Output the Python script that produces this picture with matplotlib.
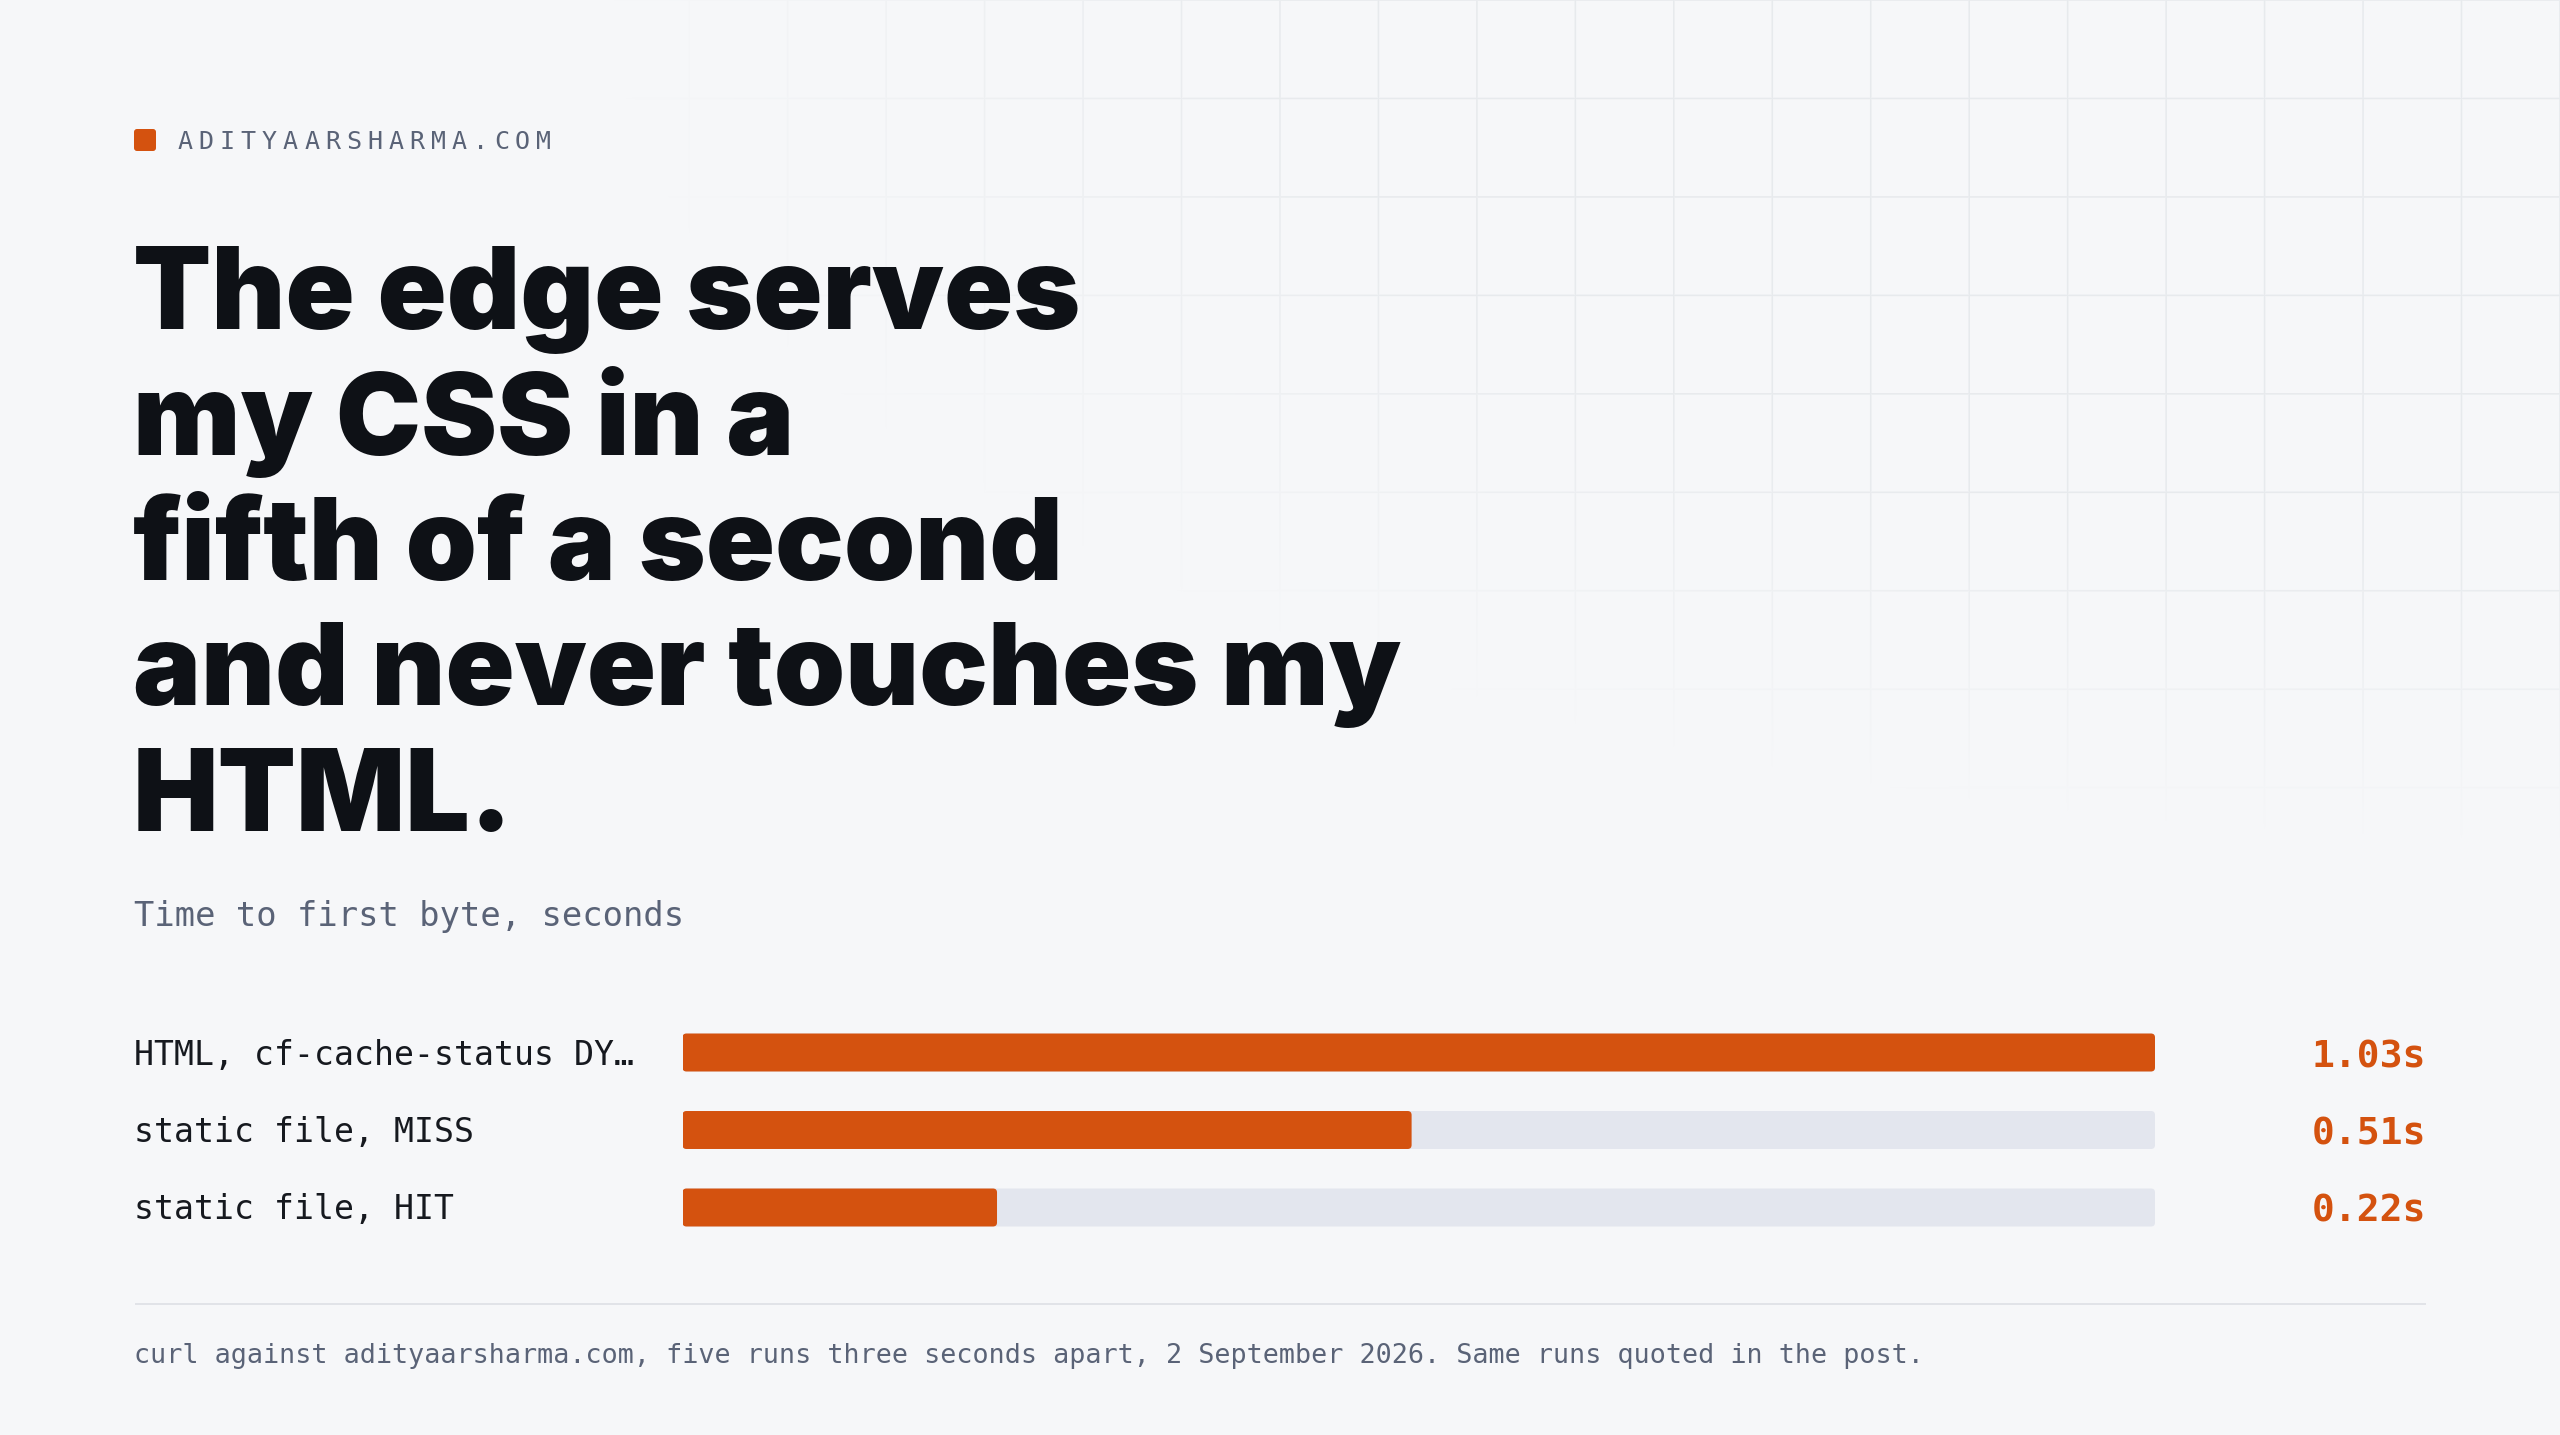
import numpy as np
import matplotlib
matplotlib.use("Agg")
import matplotlib.pyplot as plt
from matplotlib import font_manager, transforms
from matplotlib.patches import FancyBboxPatch

W, H, DPI = 2560, 1435, 100

brand = "ADITYAARSHARMA.COM"
title_lines = ["The edge serves", "my CSS in a", "fifth of a second",
               "and never touches my", "HTML."]
subtitle = "Time to first byte, seconds"
labels = ["HTML, cf-cache-status DY…", "static file, MISS", "static file, HIT"]
ttfb = [1.03, 0.51, 0.22]
value_labels = ["1.03s", "0.51s", "0.22s"]
footnote = ("curl against adityaarsharma.com, five runs three seconds apart, "
            "2 September 2026. Same runs quoted in the post.")

BG = "#f6f7f9"
INK = "#0e1116"
MUTED = "#5a6377"
ORANGE = "#d4520f"
TRACK = "#e3e6ee"
RULE = "#e1e3e8"
GRIDC = (0.905, 0.914, 0.929)


def pt(p):
    # pixels -> points
    return p * 72 / DPI


def wnum(f):
    try:
        return int(f.weight)
    except ValueError:
        return {"bold": 700, "black": 900, "heavy": 900}.get(str(f.weight), 400)


def heaviest(family):
    c = [f for f in font_manager.fontManager.ttflist
         if f.name == family and f.style == "normal" and "[" not in f.fname]
    if not c:
        return None
    return max(c, key=wnum)


title_fp = None
for fam in ["Inter", "Roboto", "Lato", "DejaVu Sans"]:
    f = heaviest(fam)
    if f is not None:
        title_fp = font_manager.FontProperties(fname=f.fname)
        break

mono = "DejaVu Sans Mono"

fig = plt.figure(figsize=(W / DPI, H / DPI), dpi=DPI, facecolor=BG)
ax = fig.add_axes([0, 0, 1, 1])
ax.set_facecolor(BG)

# faint grid in the top right, fading out
step = 98.46
xs = np.arange(W) + 0.5
ys = np.arange(H) + 0.5
dx = np.abs(((xs + step / 2) % step) - step / 2)
dy = np.abs(((ys + step / 2) % step) - step / 2)
lx = np.clip(1.3 - dx, 0, 1)
ly = np.clip(1.3 - dy, 0, 1)
lines = np.maximum(lx[None, :], ly[:, None])
r = np.sqrt(((W - xs[None, :]) / 1950) ** 2 + (ys[:, None] / 840) ** 2)
fade = np.clip((1 - r) / 0.35, 0, 1)
rgba = np.zeros((H, W, 4), dtype=np.float32)
rgba[..., 0], rgba[..., 1], rgba[..., 2] = GRIDC
rgba[..., 3] = lines * fade * 0.9
ax.imshow(rgba, extent=(0, W, H, 0), interpolation="nearest", zorder=0, aspect="auto")
ax.set_xlim(0, W)
ax.set_ylim(H, 0)
ax.axis("off")

# brand
ax.add_patch(FancyBboxPatch((134, 129), 22, 22, boxstyle="round,pad=0,rounding_size=3",
                            fc=ORANGE, ec="none", zorder=3))
for i, ch in enumerate(brand):
    ax.text(185 + i * 21.1, 149.3, ch, fontsize=pt(25), family=mono, color=MUTED,
            ha="center", va="baseline", zorder=3)

# title, sized so the lines fill their measured widths
baselines = [329, 454.6, 580, 704.8, 830.6]
targets = [1080, 802, 1033, 1396, 518]
x0 = 133
tt = [ax.text(x0, b, s, fontproperties=title_fp, fontsize=pt(100), color=INK,
              ha="left", va="baseline", zorder=3)
      for s, b in zip(title_lines, baselines)]
fig.canvas.draw()
rend = fig.canvas.get_renderer()
ratios = [(tg - x0) / t.get_window_extent(rend).width for t, tg in zip(tt, targets)]
size = 100 * float(np.median(ratios))
for t in tt:
    t.set_fontsize(pt(size))

# subtitle
ax.text(134, 925.7, subtitle, fontsize=pt(33.8), family=mono, color=MUTED,
        ha="left", va="baseline", zorder=3)

# bars
bx = fig.add_axes([682.5 / W, 1 - 1246.25 / H, 1472.5 / W, 232.5 / H])
bx.set_xlim(0, max(ttfb))
bx.set_ylim(len(ttfb) - 0.5, -0.5)
bx.axis("off")
pos = np.arange(len(ttfb))
track = bx.barh(pos, [max(ttfb)] * len(ttfb), height=0.49, color=TRACK)
fill = bx.barh(pos, ttfb, height=0.49, color=ORANGE)
asp = (len(ttfb) / 232.5) / (max(ttfb) / 1472.5)
for bars, col, z in [(track, TRACK, 1), (fill, ORANGE, 2)]:
    for rect in bars:
        rect.set_visible(False)
        bx.add_patch(FancyBboxPatch((rect.get_x(), rect.get_y()), rect.get_width(),
                                    rect.get_height(),
                                    boxstyle="round,pad=0,rounding_size=%f" % (4 * max(ttfb) / 1472.5),
                                    mutation_aspect=asp, fc=col, ec="none", zorder=z))

lab_tr = transforms.offset_copy(transforms.blended_transform_factory(ax.transData, bx.transData),
                                fig=fig, y=-12, units="dots")
val_tr = transforms.offset_copy(transforms.blended_transform_factory(ax.transData, bx.transData),
                                fig=fig, y=-14.5, units="dots")
for p, lab, v in zip(pos, labels, value_labels):
    ax.text(134, p, lab, transform=lab_tr, fontsize=pt(33.2), family=mono,
            color="#16191f", ha="left", va="baseline", zorder=3)
    ax.text(2426, p, v, transform=val_tr, fontsize=pt(38), family=mono,
            weight="bold", color=ORANGE, ha="right", va="baseline", zorder=3)

# rule and footnote
ax.plot([135, 2426], [1303.5, 1303.5], color=RULE, lw=pt(2), solid_capstyle="butt", zorder=2)
ax.text(134, 1363.3, footnote, fontsize=pt(26.7), family=mono, color=MUTED,
        ha="left", va="baseline", zorder=3)

fig.savefig("out.png", dpi=DPI, facecolor=BG)
